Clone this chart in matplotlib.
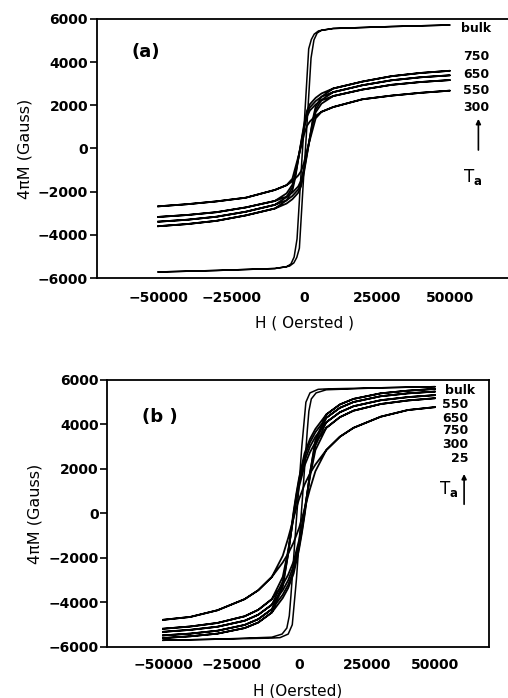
#!/usr/bin/env python

"""Hysteresis loops 4piM vs H for bulk and annealed films, panels (a) and (b)."""

import numpy
import matplotlib
matplotlib.use("Agg")
import matplotlib.pyplot as plt

# ---- data (ascending branch, H in Oe, 4piM in Gauss)
# the descending branch is the point reflection of the ascending one

# panel (a)
h_bulk_a = [-50000, -30000, -10000, -5000, -3500, -2500, -1600, 0, 500,
            1500, 2400, 3400, 4500, 6000, 10000, 30000, 50000]
m_bulk_a = [-5720, -5650, -5560, -5450, -5300, -5050, -4620, -1000, 0,
            2200, 4190, 5030, 5350, 5480, 5560, 5650, 5720]

h_a = [-50000, -40000, -30000, -20000, -10000, -6000, -4000, -2000, -1000, 0,
       1000, 2000, 3000, 4000, 6000, 10000, 20000, 30000, 40000, 50000]
m_a_750 = [-3600, -3500, -3350, -3100, -2780, -2550, -2350, -2050, -1750, -1100,
           -300, 500, 1350, 1950, 2400, 2780, 3100, 3350, 3500, 3600]
m_a_650 = [-3390, -3300, -3160, -2930, -2610, -2400, -2200, -1900, -1600, -1000,
           -250, 500, 1250, 1800, 2250, 2610, 2930, 3160, 3300, 3390]
m_a_550 = [-3170, -3080, -2950, -2730, -2430, -2230, -2040, -1760, -1480, -900,
           -200, 480, 1150, 1680, 2080, 2430, 2730, 2950, 3080, 3170]
m_a_300 = [-2680, -2580, -2450, -2280, -1920, -1700, -1520, -1250, -1050, -650,
           -100, 400, 900, 1400, 1700, 1920, 2280, 2450, 2580, 2680]
labels_a = ["bulk", "750", "650", "550", "300"]
label_m_a = [5540, 4240, 3450, 2710, 1920]

# panel (b)
h_bulk_b = [-50000, -30000, -10000, -7000, -4000, -2500, -1000, 0, 1000,
            2000, 3000, 3600, 4500, 6250, 10000, 30000, 50000]
m_bulk_b = [-5700, -5650, -5600, -5580, -5420, -5000, -3000, -1300, 300,
            2000, 3700, 4600, 5150, 5420, 5560, 5650, 5700]

h_b = [-50000, -40000, -30000, -20000, -15000, -10000, -6000, -4000, -2000, 0,
       1000, 2000, 3000, 4000, 6000, 10000, 15000, 20000, 30000, 40000, 50000]
m_b_550 = [-5600, -5520, -5400, -5150, -4900, -4450, -3800, -3350, -2700, -1600,
           -900, -100, 800, 1800, 3300, 4450, 4900, 5150, 5400, 5520, 5600]
m_b_650 = [-5480, -5400, -5270, -5010, -4750, -4300, -3650, -3200, -2550, -1500,
           -800, 0, 900, 1800, 3200, 4300, 4750, 5010, 5270, 5400, 5480]
m_b_750 = [-5320, -5230, -5090, -4820, -4550, -4100, -3450, -3000, -2350, -1350,
           -700, 50, 900, 1750, 3050, 4100, 4550, 4820, 5090, 5230, 5320]
m_b_300 = [-5180, -5080, -4920, -4620, -4330, -3850, -3200, -2750, -2150, -1200,
           -550, 150, 900, 1650, 2850, 3850, 4330, 4620, 4920, 5080, 5180]
m_b_25 = [-4780, -4650, -4350, -3850, -3450, -2850, -2200, -1800, -1300, -650,
          -250, 200, 650, 1100, 1900, 2850, 3450, 3850, 4350, 4650, 4780]
labels_b = ["bulk", "550", "650", "750", "300", "25"]
label_m_b = [5510, 4920, 4290, 3750, 3120, 2450]

xticks = [-50000, -25000, 0, 25000, 50000]
yticks = [-6000, -4000, -2000, 0, 2000, 4000, 6000]


def loop(h, m):
    """Close the loop: ascending branch then the reflected descending one."""
    h = numpy.asarray(h, dtype=float)
    m = numpy.asarray(m, dtype=float)
    return numpy.concatenate([h, -h]), numpy.concatenate([m, -m])


def style_axes(axes, xlabel, xlim, xpad, ypad):
    axes.set_xlim(*xlim)
    axes.set_ylim(-6000, 6000)
    axes.set_xticks(xticks)
    axes.set_yticks(yticks)
    axes.tick_params(axis='x', length=0, pad=xpad)
    axes.tick_params(axis='y', direction='out', length=5, width=1.2, pad=ypad)
    for label in axes.get_xticklabels() + axes.get_yticklabels():
        label.set_fontweight('bold')
        label.set_fontsize(10)
    for spine in axes.spines.values():
        spine.set_linewidth(1.3)
    axes.set_xlabel(xlabel, fontsize=11, labelpad=8)
    axes.set_ylabel("4\u03c0M (Gauss)", fontsize=11.5, labelpad=4)


fig = plt.figure(figsize=(5.08, 6.98), dpi=100)

# ---- panel (a)
ax_a = fig.add_axes([0.191, 0.6017, 0.815, 0.3711])
x, y = loop(h_bulk_a, m_bulk_a)
ax_a.plot(x, y, color='black', lw=1.1)
for m in [m_a_750, m_a_650, m_a_550, m_a_300]:
    x, y = loop(h_a, m)
    ax_a.plot(x, y, color='black', lw=1.3)
style_axes(ax_a, "H ( Oersted )", (-71000, 71000), 9, 1.5)
ax_a.text(-54300, 4470, "(a)", fontsize=13, fontweight='bold',
          ha='center', va='center')
for label, m in zip(labels_a, label_m_a):
    ax_a.text(59000, m, label, fontsize=9, fontweight='bold',
              ha='center', va='center')
ax_a.annotate('', xy=(59800, 1500), xytext=(59800, -200),
              arrowprops=dict(arrowstyle='-|>', lw=1.2, color='black',
                              mutation_scale=7))
ax_a.text(58000, -1300, r"T$_\mathbf{a}$", fontsize=12,
          ha='center', va='center')

# ---- panel (b)
ax_b = fig.add_axes([0.2106, 0.0731, 0.752, 0.3825])
x, y = loop(h_bulk_b, m_bulk_b)
ax_b.plot(x, y, color='black', lw=1.1)
for m in [m_b_550, m_b_650, m_b_750, m_b_300, m_b_25]:
    x, y = loop(h_b, m)
    ax_b.plot(x, y, color='black', lw=1.3)
style_axes(ax_b, "H (Oersted)", (-70600, 69800), 8, 1)
ax_b.text(-51100, 4340, "(b )", fontsize=13, fontweight='bold',
          ha='center', va='center')
ax_b.text(64700, label_m_b[0], labels_b[0], fontsize=9, fontweight='bold',
          ha='right', va='center')
for label, m in zip(labels_b[1:], label_m_b[1:]):
    ax_b.text(62100, m, label, fontsize=9, fontweight='bold',
              ha='right', va='center')
ax_b.annotate('', xy=(60650, 1900), xytext=(60650, 290),
              arrowprops=dict(arrowstyle='-|>', lw=1.2, color='black',
                              mutation_scale=7))
ax_b.text(54800, 1100, r"T$_\mathbf{a}$", fontsize=12,
          ha='center', va='center')

fig.savefig("out.png", dpi=100)
